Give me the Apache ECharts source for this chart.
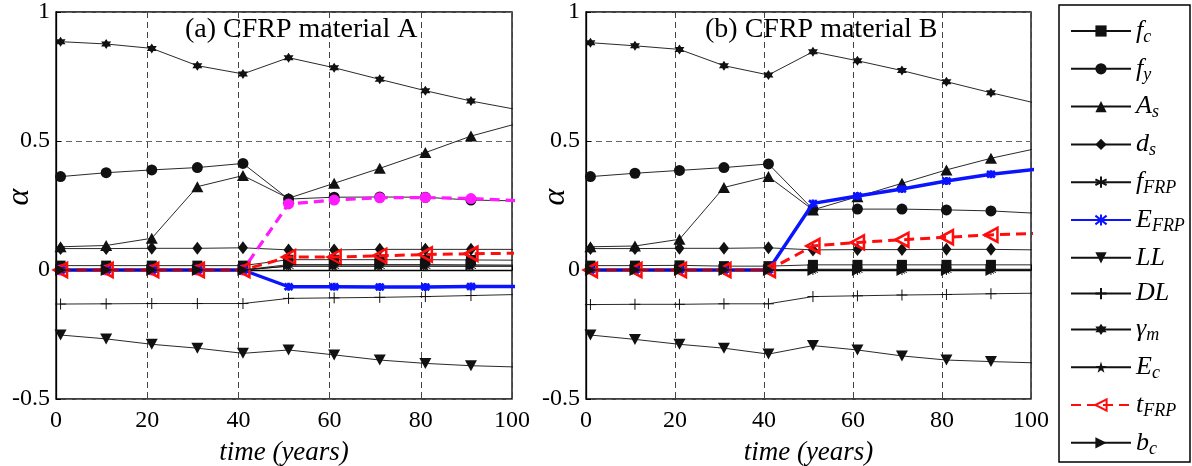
<!DOCTYPE html>
<html>
<head>
<meta charset="utf-8">
<script src="https://cdn.jsdelivr.net/npm/echarts@6/dist/echarts.min.js"></script>
<style>html,body{margin:0;padding:0;background:#fff;}#c{width:1192px;height:466px;}</style>
</head>
<body>
<div id="c"></div>
<script>
// ---------- data ----------
const years = [1, 11, 21, 31, 41, 51, 61, 71, 81, 91, 101];
const xTicks = [0, 20, 40, 60, 80, 100];
const yTicks = [-0.5, 0, 0.5, 1];
const seriesNames = ['f_c','f_y','A_s','d_s','f_FRP','E_FRP','LL','DL','gamma_m','E_c','t_FRP','b_c'];

// Panel (a) CFRP material A
const fcA    = [0.017,0.017,0.017,0.017,0.017,0.040,0.040,0.040,0.040,0.039,0.038];
const fyA    = [0.362,0.377,0.388,0.397,0.413,0.275,0.282,0.283,0.282,0.271,0.268];
const AsA    = [0.090,0.095,0.123,0.323,0.366,0.278,0.336,0.394,0.455,0.519,0.567];
const dsA    = [0.083,0.083,0.084,0.084,0.086,0.078,0.078,0.080,0.080,0.080,0.080];
const fFRPA  = [0,0,0,0,0,0.015,0.015,0.015,0.015,0.015,0.015];
const EFRPA  = [0,0,0,0,0,-0.065,-0.065,-0.066,-0.066,-0.064,-0.064];
const LLA    = [-0.252,-0.267,-0.288,-0.303,-0.323,-0.310,-0.329,-0.349,-0.362,-0.371,-0.376];
const DLA    = [-0.132,-0.131,-0.130,-0.130,-0.130,-0.110,-0.108,-0.106,-0.103,-0.099,-0.095];
const gmA    = [0.885,0.876,0.859,0.792,0.760,0.823,0.784,0.739,0.695,0.655,0.622];
const EcA    = [0,0,0,0,0,0.015,0.015,0.015,0.015,0.015,0.015];
const tFRPA  = [0,0,0,0,0,0.050,0.050,0.055,0.060,0.063,0.065];
const bcA    = [0,0,0,0,0,0.021,0.021,0.021,0.021,0.020,0.019];
const extraA = [0,0,0,0,0,0.256,0.271,0.280,0.281,0.277,0.269];

// Panel (b) CFRP material B
const fcB    = [0.017,0.017,0.018,0.015,0.015,0.020,0.020,0.020,0.020,0.020,0.020];
const fyB    = [0.362,0.375,0.386,0.397,0.411,0.235,0.236,0.236,0.233,0.229,0.220];
const AsB    = [0.090,0.093,0.119,0.320,0.362,0.233,0.284,0.336,0.388,0.433,0.470];
const dsB    = [0.083,0.083,0.084,0.084,0.086,0.078,0.079,0.079,0.080,0.080,0.078];
const fFRPB  = [0,0,0,0,0,0,0,0,0,0,0];
const EFRPB  = [0,0,0,0,0,0.258,0.287,0.314,0.345,0.371,0.390];
const LLB    = [-0.252,-0.269,-0.288,-0.303,-0.326,-0.293,-0.310,-0.333,-0.349,-0.355,-0.360];
const DLB    = [-0.134,-0.133,-0.133,-0.131,-0.131,-0.103,-0.100,-0.097,-0.095,-0.092,-0.090];
const gmB    = [0.881,0.869,0.855,0.792,0.756,0.846,0.811,0.773,0.730,0.687,0.647];
const EcB    = [0,0,0,0,0,0.003,0.003,0.003,0.003,0.003,0.003];
const tFRPB  = [0,0,0,0,0,0.093,0.107,0.117,0.127,0.136,0.142];
const bcB    = [0,0,0,0,0,0,0,0,0,0,0];

const panelA = {f_c:fcA,f_y:fyA,A_s:AsA,d_s:dsA,f_FRP:fFRPA,E_FRP:EFRPA,LL:LLA,DL:DLA,gamma_m:gmA,E_c:EcA,t_FRP:tFRPA,b_c:bcA};
const panelB = {f_c:fcB,f_y:fyB,A_s:AsB,d_s:dsB,f_FRP:fFRPB,E_FRP:EFRPB,LL:LLB,DL:DLB,gamma_m:gmB,E_c:EcB,t_FRP:tFRPB,b_c:bcB};

// ---------- styles ----------
const FONT = '"Liberation Serif", "Times New Roman", serif';
const BLK = '#111';
const P = {
  asterisk: 'path://M0,-10L0,10M-8.66,-5L8.66,5M-8.66,5L8.66,-5',
  xstar: 'path://M-7,-7L7,7M-7,7L7,-7M0,-9L0,9',
  plus: 'path://M-10,0L10,0M0,-10L0,10',
  hexa: 'path://M0,-10L2.887,-5L8.66,-5L5.774,0L8.66,5L2.887,5L0,10L-2.887,5L-8.66,5L-5.774,0L-8.66,-5L-2.887,-5Z',
  star5: 'path://M0,-10L2.245,-3.09L9.511,-3.09L3.633,1.18L5.878,8.09L0,3.82L-5.878,8.09L-3.633,1.18L-9.511,-3.09L-2.245,-3.09Z',
  triL: 'path://M-10,0L10,-10L10,10Z',
  triR: 'path://M10,0L-10,-10L-10,10Z',
  triD: 'path://M-10,-9L10,-9L0,9Z',
  triU: 'path://M-10,9L10,9L0,-9Z'
};
const ST = {
  f_c:    {symbol:'rect', size:10, color:BLK},
  f_y:    {symbol:'circle', size:11, color:BLK},
  A_s:    {symbol:P.triU, size:[12,11], color:BLK},
  d_s:    {symbol:'diamond', size:[10,13], color:BLK},
  f_FRP:  {symbol:P.asterisk, size:10, color:BLK, border:1},
  E_FRP:  {symbol:P.xstar, size:8, color:'#0a14ff', border:2.8, lineW:3.4},
  LL:     {symbol:P.triD, size:[12,11], color:BLK},
  DL:     {symbol:P.plus, size:11, color:BLK, border:1},
  gamma_m:{symbol:P.hexa, size:10, color:BLK},
  E_c:    {symbol:P.star5, size:10, color:BLK},
  t_FRP:  {symbol:P.triL, size:[13,14], color:'#ff0d0d', fill:'rgba(255,255,255,0)', border:2.6, lineW:3, dash:[10,6]},
  b_c:    {symbol:P.triR, size:[11,12], color:BLK}
};
const labelRich = {f_c:'{m|f}{s|c}', f_y:'{m|f}{s|y}', A_s:'{m|A}{s|s}', d_s:'{m|d}{s|s}', f_FRP:'{m|f}{s|FRP}',
  E_FRP:'{m|E}{s|FRP}', LL:'{m|LL}', DL:'{m|DL}', gamma_m:'{m|γ}{s|m}', E_c:'{m|E}{s|c}', t_FRP:'{m|t}{s|FRP}', b_c:'{m|b}{s|c}'};

function pairs(vals){ return years.map((x,i)=>[x, vals[i]]); }
function mk(name, vals, gi, z){
  const s = ST[name];
  return {
    name: name, type:'line', xAxisIndex:gi, yAxisIndex:gi, data:pairs(vals), clip:true,
    symbol:s.symbol, symbolSize:s.size, symbolKeepAspect:false, showSymbol:true, z:z,
    lineStyle:{color:s.color, width:s.lineW||0.9, type:s.dash||'solid'},
    itemStyle:{color: s.fill || s.color, borderColor:s.color, borderWidth:s.border||0},
    emphasis:{disabled:true}, animation:false
  };
}
const series = [];
[panelA, panelB].forEach((pan, gi)=>{
  seriesNames.forEach((n, k)=>{
    series.push(mk(n, pan[n], gi, 2 + k*0.01 + (n==='E_FRP'?0.05:0)));
  });
});
// magenta dashed curve in panel (a)
series.push({
  name:'extra', type:'line', xAxisIndex:0, yAxisIndex:0, data:pairs(extraA), clip:true,
  symbol:'circle', symbolSize:11, z:2.035,
  lineStyle:{color:'#ff1aff', width:3.2, type:[10,6]},
  itemStyle:{color:'#ff1aff'}, emphasis:{disabled:true}, animation:false
});

function xAxisOpt(gi){
  return {
    type:'value', gridIndex:gi, min:xTicks[0], max:xTicks[xTicks.length-1], interval:20,
    name:'time (years)', nameLocation:'middle', nameGap:40,
    nameTextStyle:{fontFamily:FONT, fontStyle:'italic', fontSize:27, color:'#000'},
    axisLine:{show:true, lineStyle:{color:'#000', width:1.3}},
    axisTick:{show:true, inside:true, length:5, lineStyle:{color:'#000'}},
    axisLabel:{fontFamily:FONT, fontSize:24, color:'#000', margin:10},
    splitLine:{show:true, lineStyle:{color:'#444', width:1, type:[6,4]}}
  };
}
function yAxisOpt(gi){
  return {
    type:'value', gridIndex:gi, min:yTicks[0], max:yTicks[yTicks.length-1], interval:0.5,
    axisLine:{show:true, lineStyle:{color:'#000', width:1.3}},
    axisTick:{show:true, inside:true, length:5, lineStyle:{color:'#000'}},
    axisLabel:{fontFamily:FONT, fontSize:24, color:'#000', margin:6,
      formatter: v => String(v)},
    splitLine:{show:true, lineStyle:{color:'#666', width:1, type:[6,4]}}
  };
}

const chart = echarts.init(document.getElementById('c'), null, {renderer:'canvas'});
chart.setOption({
  backgroundColor:'#fff',
  animation:false,
  title:[
    {text:'(a) CFRP material A', left:180, top:11, textStyle:{fontFamily:FONT, fontWeight:'normal', fontSize:28, color:'#000'}},
    {text:'(b) CFRP material B', left:700, top:11, textStyle:{fontFamily:FONT, fontWeight:'normal', fontSize:28, color:'#000'}}
  ],
  grid:[
    {left:56, top:12, width:456, height:387, show:true, borderColor:'#000', borderWidth:1.3, backgroundColor:'rgba(0,0,0,0)', containLabel:false, outerBoundsMode:'none'},
    {left:586, top:12, width:445, height:387, show:true, borderColor:'#000', borderWidth:1.3, backgroundColor:'rgba(0,0,0,0)', containLabel:false, outerBoundsMode:'none'}
  ],
  xAxis:[xAxisOpt(0), xAxisOpt(1)],
  yAxis:[yAxisOpt(0), yAxisOpt(1)],
  legend:{
    data: seriesNames, orient:'vertical', left:1070, top:18, padding:0, height:448,
    itemWidth:60, itemHeight:14, itemGap:9.8, selectedMode:false, z:10,
    formatter: n => labelRich[n],
    textStyle:{color:'#000', rich:{
      m:{fontFamily:FONT, fontStyle:'italic', fontSize:26, lineHeight:30, color:'#000'},
      s:{fontFamily:FONT, fontStyle:'italic', fontSize:18, padding:[12,0,0,0], color:'#000'}
    }}
  },
  graphic:[
    {type:'rect', z:0, shape:{x:1059, y:5, width:131, height:457}, style:{fill:'#fff', stroke:'#000', lineWidth:1.5}},
    {type:'text', z:5, x:20, y:197, rotation:Math.PI/2, style:{text:'α', font:'italic 32px "Liberation Serif"', fill:'#000', textAlign:'center', textVerticalAlign:'middle'}},
    {type:'text', z:5, x:556, y:197, rotation:Math.PI/2, style:{text:'α', font:'italic 32px "Liberation Serif"', fill:'#000', textAlign:'center', textVerticalAlign:'middle'}}
  ],
  series: series
});
</script>
</body>
</html>
